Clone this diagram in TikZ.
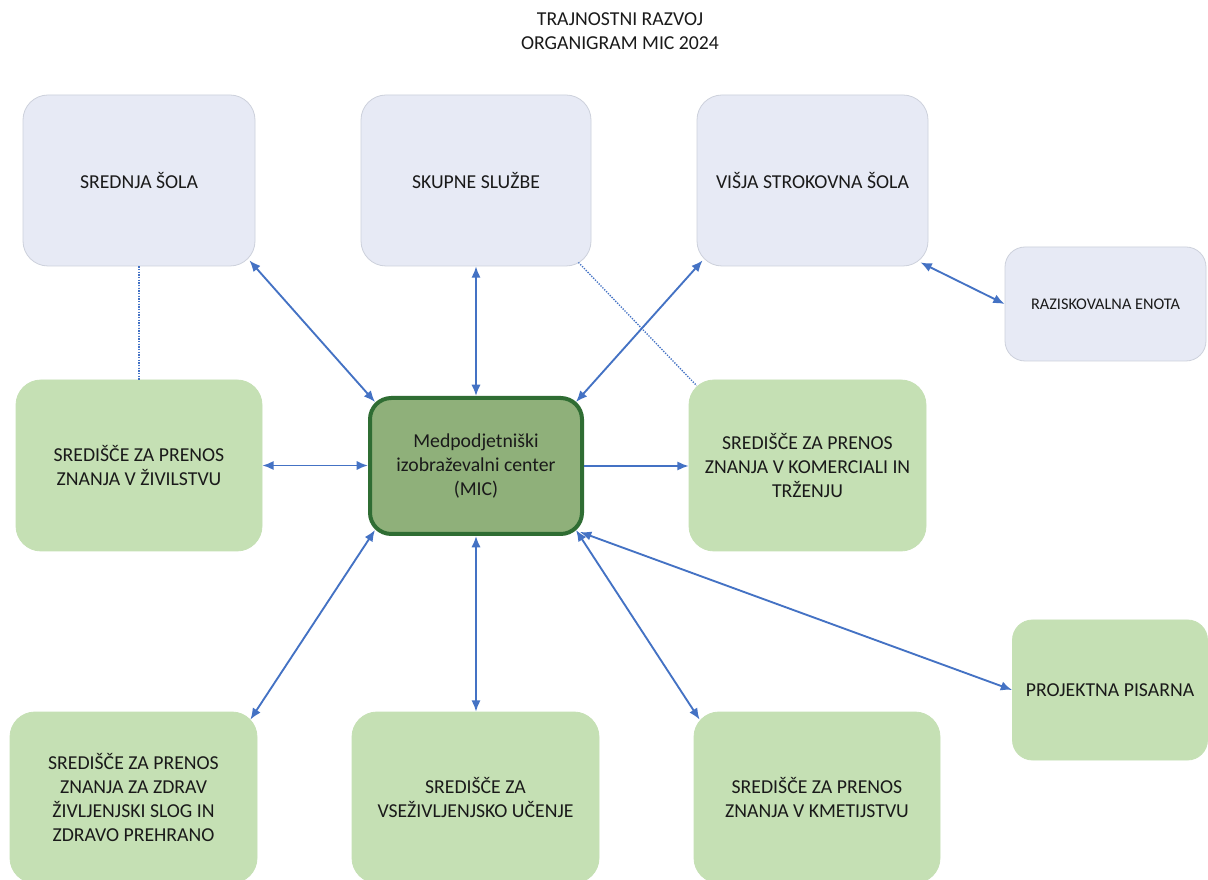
\documentclass[tikz,border=0pt]{standalone}
\usepackage{fontspec}
\setmainfont{Carlito}
\usetikzlibrary{arrows.meta}
\definecolor{bluefill}{HTML}{E7EAF5}
\definecolor{blueedge}{HTML}{CDD1DC}
\definecolor{greenfill}{HTML}{C5E0B4}
\definecolor{micfill}{HTML}{8FB07A}
\definecolor{micedge}{HTML}{2F6D33}
\definecolor{conncol}{HTML}{4472C4}
\definecolor{txt}{HTML}{1A1A1A}
\tikzset{
  base/.style={inner sep=0pt, align=center, text=txt, font=\fontsize{14.8}{18}\selectfont},
  bluebox/.style={base, fill=bluefill, draw=blueedge, line width=0.6pt, rounded corners=18.75pt},
  greenbox/.style={base, fill=greenfill, draw=greenfill, line width=0.6pt, rounded corners=18.75pt},
  micbox/.style={base, fill=micfill, draw=micedge, line width=3pt, rounded corners=16pt},
  conn/.style={draw=conncol, line width=1.4pt, arrows={Latex[length=8.5pt,width=7pt]-Latex[length=8.5pt,width=7pt]}},
  conn1/.style={draw=conncol, line width=1.4pt, arrows={-Latex[length=8.5pt,width=7pt]}},
  dotconn/.style={draw=conncol, line width=1pt, dash pattern=on 1pt off 1pt}
}
\begin{document}
\begin{tikzpicture}[x=0.75pt,y=-0.75pt]
\useasboundingbox (0,0) rectangle (1208,880);
\clip (0,0) rectangle (1208,880);
\fill[white] (0,0) rectangle (1208,880);

\node[base] (title) at (620,31.5) {TRAJNOSTNI RAZVOJ\\ORGANIGRAM MIC 2024};

\node[bluebox, minimum width=174pt, minimum height=128.25pt] (sred) at (139,180.5) {SREDNJA ŠOLA};
\node[bluebox, minimum width=172.5pt, minimum height=128.25pt] (skup) at (476,180.5) {SKUPNE SLUŽBE};
\node[bluebox, minimum width=173.25pt, minimum height=128.25pt] (visja) at (812.5,180.5) {VIŠJA STROKOVNA ŠOLA};
\node[bluebox, rounded corners=15pt, minimum width=150.75pt, minimum height=85.5pt, font=\fontsize{12.2}{15}\selectfont] (razi) at (1105.5,304) {RAZISKOVALNA ENOTA};

\node[greenbox, minimum width=184.5pt, minimum height=128.25pt] (lg) at (139,465.5) {SREDIŠČE ZA PRENOS\\ZNANJA V ŽIVILSTVU};
\node[micbox, minimum width=159pt, minimum height=102pt] (mic) at (476,466) {Medpodjetniški\\izobraževalni center\\(MIC)};
\node[greenbox, minimum width=177.75pt, minimum height=128.25pt] (rg) at (807.5,465.5) {SREDIŠČE ZA PRENOS\\ZNANJA V KOMERCIALI IN\\TRŽENJU};
\node[greenbox, rounded corners=15pt, minimum width=146.25pt, minimum height=105pt] (proj) at (1110,690) {PROJEKTNA PISARNA};

\node[greenbox, minimum width=185.25pt, minimum height=128.25pt] (bl) at (133.5,797.5) {SREDIŠČE ZA PRENOS\\ZNANJA ZA ZDRAV\\ŽIVLJENJSKI SLOG IN\\ZDRAVO PREHRANO};
\node[greenbox, minimum width=185.25pt, minimum height=128.25pt] (bm) at (475.5,797.5) {SREDIŠČE ZA\\VSEŽIVLJENJSKO UČENJE};
\node[greenbox, minimum width=184.5pt, minimum height=128.25pt] (br) at (817,797.5) {SREDIŠČE ZA PRENOS\\ZNANJA V KMETIJSTVU};

% dotted links
\draw[dotconn] (sred.south) -- (lg.north);
\draw[dotconn] ([shift={(-13,-4)}]skup.south east) -- ([shift={(8,6)}]rg.north west);

% connectors
\draw[conn] ([shift={(-6,-6)}]sred.south east) -- ([shift={(7,6)}]mic.north west);
\draw[conn] (skup.south) -- (mic.north);
\draw[conn] ([shift={(6,-6)}]visja.south west) -- ([shift={(-8,6)}]mic.north east);
\draw[conn] ([shift={(-8,-4)}]visja.south east) -- (razi.west);
\draw[conn] (lg.east) -- (lg.east -| mic.west);
\draw[conn1] (mic.east) -- (mic.east -| rg.west);
\draw[conn] ([shift={(7,-6)}]mic.south west) -- ([shift={(-7,8)}]bl.north east);
\draw[conn] (mic.south) -- (mic.south |- bm.north);
\draw[conn] ([shift={(-8,-6)}]mic.south east) -- ([shift={(6,8)}]br.north west);
\draw[conn] ([shift={(-4,-4)}]mic.south east) -- (proj.west);
\end{tikzpicture}
\end{document}
